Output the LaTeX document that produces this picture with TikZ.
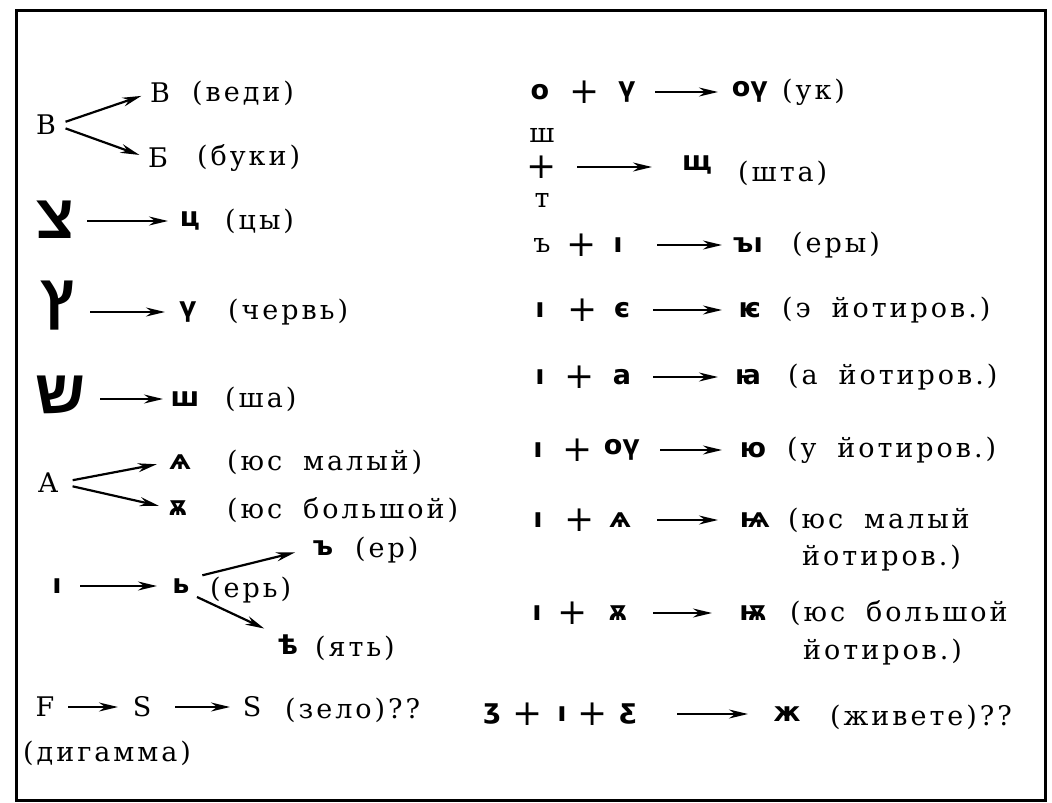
\documentclass[tikz,border=0pt]{standalone}
\usepackage{fontspec}
\setmainfont{DejaVu Serif}[LetterSpace=11,WordSpace=1.8]
\newfontfamily\slav{DejaVu Sans}
\newfontfamily\hebr[Script=Hebrew]{Liberation Sans}
\TeXXeTstate=1
\usetikzlibrary{arrows.meta}

\begin{document}
\begin{tikzpicture}[x=1pt,y=-1pt,>={Stealth[length=19pt,width=9pt]}]
        \tikzstyle{word}=[anchor=west,inner sep=0pt,font=\fontsize{27}{30}\selectfont]
        \tikzstyle{letter}=[inner sep=0pt,font=\fontsize{27}{30}\selectfont]
        \tikzstyle{glyph}=[inner sep=0pt,font=\slav\bfseries\fontsize{27}{30}\selectfont]
        \tikzstyle{semitic}=[inner sep=0pt,font=\hebr\bfseries\fontsize{62}{62}\selectfont]
        \tikzstyle{plus}=[inner sep=0pt,font=\fontsize{36}{36}\selectfont]
        \tikzstyle{edge}=[line width=2.2pt]
        \useasboundingbox (0,0) rectangle (1052,803);
        \draw[line width=3pt] (16,10) rectangle (1045,800);
       \begin{scope}
         \node [letter] (beta) at (46,125) {Β};
         \node [letter] (vedi) at (160,93) {В};
         \node [word] (vediname) at (192,93) {(веди)};
         \node [letter] (buki) at (158,158) {Б};
         \node [word] (bukiname) at (197,158) {(буки)};
         \path[edge,->] (beta.east) edge[shorten <=10pt,shorten >=9pt] (vedi.west);
         \path[edge,->] (beta.east) edge[shorten <=10pt,shorten >=9pt] (buki.west);

         \node [semitic] (tsade) at (55,220) {\beginR צ\endR};
         \node [glyph] (tsy) at (190,221) {ц};
         \node [word] (tsyname) at (225,221) {(цы)};
         \path[edge,->] (tsade |- tsy) edge[shorten <=32pt,shorten >=22pt] (tsy.center);

         \node [semitic] (tsadi) at (58,306) {\beginR ץ\endR};
         \node [glyph] (cherv) at (188,312) {ү};
         \node [word] (chervname) at (228,312) {(червь)};
         \path[edge,->] (tsadi |- cherv) edge[shorten <=32pt,shorten >=23pt] (cherv.center);

         \node [semitic] (shin) at (60,395) {\beginR ש\endR};
         \node [glyph] (sha) at (185,399) {ш};
         \node [word] (shaname) at (225,399) {(ша)};
         \path[edge,->] (shin |- sha) edge[shorten <=40pt,shorten >=22pt] (sha.center);

         \node [letter] (alpha) at (48,483) {Α};
         \node [glyph] (yusm) at (180,462) {ѧ};
         \node [word] (yusmname) at (227,462) {(юс малый)};
         \node [glyph] (yusb) at (178,508) {ѫ};
         \node [word] (yusbname) at (227,510) {(юс большой)};
         \path[edge,->] (alpha.east) edge[shorten <=15pt,shorten >=12pt] (yusm.west);
         \path[edge,->] (alpha.east) edge[shorten <=15pt,shorten >=10pt] (yusb.west);

         \node [glyph] (iota) at (57,586) {ı};
         \node [glyph] (erj) at (181,586) {ь};
         \node [word] (erjname) at (210,590) {(ерь)};
         \node [glyph] (er) at (323,548) {ъ};
         \node [word] (ername) at (355,550) {(ер)};
         \node [glyph] (yat) at (288,645) {ѣ};
         \node [word] (yatname) at (315,648) {(ять)};
         \path[edge,->] (iota.center) edge[shorten <=23pt,shorten >=24pt] (erj.center);
         \path[edge,->] (erj.north east) edge[shorten <=13pt,shorten >=18pt] (er.west);
         \path[edge,->] (erj.south east) edge[shorten <=8pt,shorten >=15pt] (yat.north west);

         \node [letter] (digamma) at (45,707) {F};
         \node [letter] (dze) at (142,707) {Ѕ};
         \node [letter] (zelo) at (252,707) {Ѕ};
         \node [word] (zeloname) at (285,710) {(зело)??};
         \node [word] (digammaname) at (23,753) {(дигамма)};
         \path[edge,->] (digamma.center) edge[shorten <=23pt,shorten >=24pt] (dze.center);
         \path[edge,->] (dze.center) edge[shorten <=33pt,shorten >=22pt] (zelo.center);
        \end{scope}
       \begin{scope}
         \node [glyph] (o1) at (540,92) {о};
         \node [plus] (p1) at (585,92) {+};
         \node [glyph] (izh1) at (627,92) {ү};
         \node [glyph] (uk) at (750,92) {оү};
         \node [word] (ukname) at (782,92) {(ук)};
         \path[edge,->] (izh1.center) edge[shorten <=28pt,shorten >=32pt] (uk.center);

         \node [letter] (sha2) at (542,135) {ш};
         \node [plus] (p2) at (542,167) {+};
         \node [letter] (te2) at (542,200) {т};
         \node [glyph] (shta) at (697,165) {щ};
         \node [word] (shtaname) at (738,173) {(шта)};
         \path[edge,->] (p2.center) edge[shorten <=35pt,shorten >=45pt] (p2 -| shta);

         \node [letter] (yer3) at (542,245) {ъ};
         \node [plus] (p3) at (582,245) {+};
         \node [glyph] (i3) at (618,245) {ı};
         \node [glyph] (yery) at (748,245) {ъı};
         \node [word] (yeryname) at (792,245) {(еры)};
         \path[edge,->] (i3.center) edge[shorten <=39pt,shorten >=26pt] (yery.center);

         \node [glyph] (i4) at (540,310) {ı};
         \node [plus] (p4) at (583,310) {+};
         \node [glyph] (e4) at (622,310) {є};
         \node [glyph] (je) at (750,310) {ѥ};
         \node [word] (jename) at (782,310) {(э йотиров.)};
         \path[edge,->] (e4.center) edge[shorten <=31pt,shorten >=28pt] (je.center);

         \node [glyph] (i5) at (540,377) {ı};
         \node [plus] (p5) at (580,377) {+};
         \node [glyph] (a5) at (622,377) {а};
         \node [glyph] (ja) at (748,377) {ꙗ};
         \node [word] (janame) at (788,377) {(а йотиров.)};
         \path[edge,->] (a5.center) edge[shorten <=31pt,shorten >=30pt] (ja.center);

         \node [glyph] (i6) at (538,450) {ı};
         \node [plus] (p6) at (578,450) {+};
         \node [glyph] (u6) at (622,450) {оү};
         \node [glyph] (ju) at (753,450) {ю};
         \node [word] (juname) at (787,450) {(у йотиров.)};
         \path[edge,->] (u6.center) edge[shorten <=38pt,shorten >=31pt] (ju.center);

         \node [glyph] (i7) at (538,520) {ı};
         \node [plus] (p7) at (580,520) {+};
         \node [glyph] (yusm7) at (620,520) {ѧ};
         \node [glyph] (jyusm) at (755,520) {ѩ};
         \node [word] (jyusmname) at (788,520) {(юс малый};
         \node [word] (jyusmname2) at (802,558) {йотиров.)};
         \path[edge,->] (yusm7.center) edge[shorten <=37pt,shorten >=37pt] (jyusm.center);

         \node [glyph] (i8) at (537,613) {ı};
         \node [plus] (p8) at (573,613) {+};
         \node [glyph] (yusb8) at (618,613) {ѫ};
         \node [glyph] (jyusb) at (753,613) {ѭ};
         \node [word] (jyusbname) at (790,613) {(юс большой};
         \node [word] (jyusbname2) at (803,652) {йотиров.)};
         \path[edge,->] (yusb8.center) edge[shorten <=35pt,shorten >=41pt] (jyusb.center);

         \node [glyph] (zemlya) at (492,714) {ʒ};
         \node [plus] (p9) at (528,714) {+};
         \node [glyph] (i9) at (562,714) {ı};
         \node [plus] (q9) at (593,714) {+};
         \node [glyph] (dzelo) at (628,714) {ƹ};
         \node [glyph] (zhivete) at (787,714) {ж};
         \node [word] (zhivetename) at (830,717) {(живете)??};
         \path[edge,->] (dzelo.center) edge[shorten <=49pt,shorten >=39pt] (zhivete.center);
        \end{scope}
      \end{tikzpicture}
\end{document}
